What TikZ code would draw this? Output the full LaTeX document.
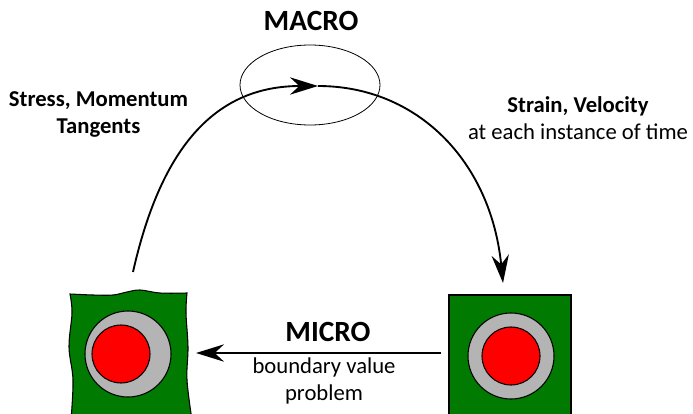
\documentclass[tikz,border=0pt]{standalone}
\usepackage{fontspec}
\setmainfont{Carlito}
\usetikzlibrary{arrows.meta,shapes.geometric}
\definecolor{tilegreen}{RGB}{0,122,0}
\definecolor{ringgray}{RGB}{180,180,180}
\definecolor{corered}{RGB}{255,0,0}
\tikzset{
  bigtitle/.style={font=\bfseries\fontsize{22}{26}\selectfont, inner sep=0pt},
  lbl/.style={font=\fontsize{17}{20.5}\selectfont, align=center, inner sep=0pt},
  flow/.style={line width=1.4pt, -{Stealth[length=21pt,width=13pt,inset=7pt]}},
  tile/.style={fill=tilegreen, draw=black, line width=0.8pt},
  ring/.style={fill=ringgray, draw=black, line width=0.8pt},
  core/.style={fill=corered, draw=black, line width=0.8pt}
}
\begin{document}
\begin{tikzpicture}[x=0.75pt,y=-0.75pt]
\useasboundingbox (0,0) rectangle (693,414);
% left deformed tile
\draw[tile] plot[smooth, tension=0.6] coordinates {(70,294) (93,295) (113,295) (127,292) (140,290) (160,293) (187,293)}
  -- plot[smooth, tension=0.6] coordinates {(187,293) (186,313) (188,347) (187,380) (192,420)}
  -- (71,420)
  -- plot[smooth, tension=0.6] coordinates {(71,420) (73,380) (69,347) (72,313) (70,294)} -- cycle;
\node[ring, circle, minimum size=86pt*0.75, inner sep=0pt] (lring) at (128,354) {};
\node[core, circle, minimum size=58pt*0.75, inner sep=0pt] (lcore) at (121,354) {};
% right tile
\draw[tile] (449,295) rectangle (571,420);
\node[ring, circle, minimum size=86pt*0.75, inner sep=0pt] (rring) at (511,356) {};
\node[core, circle, minimum size=58pt*0.75, inner sep=0pt] (rcore) at (511,356) {};
% macro ellipse
\node[draw, ellipse, line width=0.6pt, minimum width=140pt*0.75, minimum height=80pt*0.75, inner sep=0pt] (macroell) at (310,85) {};
% arc
\coordinate (arcstart) at (133,272);
\coordinate (arctop) at (318,86);
\coordinate (arcend) at (503,283);
\draw[flow] (arcstart) .. controls (162,143) and (218,86) .. (arctop);
\draw[flow] (arctop) .. controls (418,86) and (491,162) .. (arcend);
% micro arrow
\coordinate (mstart) at (441,353);
\coordinate (mend) at (196,353);
\draw[flow] (mstart) -- (mend);
% texts
\node[bigtitle] (macro) at (311,21) {MACRO};
\node[bigtitle] (micro) at (328,331.5) {MICRO};
\node[lbl, font=\bfseries\fontsize{17}{20.5}\selectfont] (stress) at (98.5,114.5) {Stress, Momentum\\Tangents};
\node[lbl] (strain) at (578,118) {\textbf{Strain, Velocity}\\at each instance of time};
\node[lbl] (bvp) at (324,381) {boundary value\\problem};
\end{tikzpicture}
\end{document}
